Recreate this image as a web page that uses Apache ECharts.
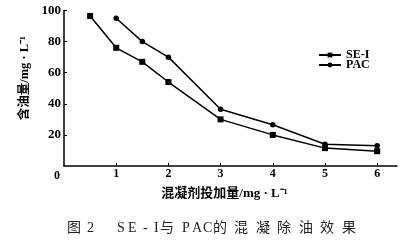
<!DOCTYPE html>
<html><head><meta charset="utf-8">
<script src="https://cdn.jsdelivr.net/npm/echarts@6/dist/echarts.min.js"></script>
<style>html,body{margin:0;padding:0;background:#fff}#c{width:413px;height:242px}</style>
</head><body><div id="c"></div>
<script>
const seriesNames = ['SE-I', 'PAC'];
const seI = [[0.5, 96.5], [1, 76], [1.5, 67], [2, 54], [3, 30], [4, 20], [5, 11.5], [6, 9.5]];
const pac = [[1, 95], [1.5, 80], [2, 70], [3, 36.5], [4, 26.5], [5, 14], [6, 13]];
const xTicks = [0, 1, 2, 3, 4, 5, 6];
const yTicks = [20, 40, 60, 80, 100];
const xName = '混凝剂投加量/mg · L⁻¹';
const yName = '含油量/mg · L⁻¹';
const captionParts = [['图', 67], ['2', 87], ['S', 117], ['E', 128], ['-', 143], ['I', 154], ['与', 160], ['P', 182], ['A', 192], ['C', 203], ['的', 213], ['混', 234], ['凝', 256], ['除', 277], ['油', 299], ['效', 320], ['果', 342]];

const serif = '"Liberation Serif","Noto Sans CJK SC",serif';
const chart = echarts.init(document.getElementById('c'), null, {renderer: 'canvas'});
chart.setOption({
  animation: false,
  backgroundColor: '#fff',
  grid: {left: 64, right: 16, top: 10.5, bottom: 76},
  legend: {
    orient: 'vertical', left: 313, top: 44, itemGap: -2,
    itemWidth: 22, itemHeight: 6,
    textStyle: {fontFamily: serif, fontWeight: 'bold', fontSize: 12, color: '#000', lineHeight: 11},
    data: seriesNames
  },
  xAxis: {
    type: 'value', min: 0, max: 6.38,
    name: xName, nameLocation: 'middle', nameGap: 13,
    nameTextStyle: {fontFamily: serif, fontWeight: 'bold', fontSize: 13, color: '#000', padding: [0, 12, 0, 0]},
    axisLine: {lineStyle: {color: '#000', width: 1.5}},
    axisTick: {inside: true, length: 3, customValues: xTicks.slice(1), lineStyle: {color: '#000'}},
    axisLabel: {customValues: xTicks, margin: 2, color: '#000', fontFamily: serif, fontWeight: 'bold', fontSize: 12,
      formatter: v => v === 0 ? '{z|0}' : String(v),
      rich: {z: {padding: [2, 14, 0, 0], fontFamily: serif, fontWeight: 'bold', fontSize: 12, color: '#000'}}},
    splitLine: {show: false}
  },
  yAxis: {
    type: 'value', min: 0, max: 100, interval: 20,
    name: yName, nameLocation: 'middle', nameGap: 30, nameRotate: 90,
    nameTextStyle: {fontFamily: serif, fontWeight: 'bold', fontSize: 12.5, color: '#000', padding: [0, 0, 0, 20]},
    axisLine: {show: true, onZero: false, lineStyle: {color: '#000', width: 1.5}},
    axisTick: {show: true, inside: true, length: 3, customValues: yTicks, lineStyle: {color: '#000'}},
    axisLabel: {customValues: yTicks, margin: 3, color: '#000', fontFamily: serif, fontWeight: 'bold', fontSize: 13},
    splitLine: {show: false}
  },
  series: [
    {name: seriesNames[0], type: 'line', data: seI, symbol: 'rect', symbolSize: 6,
      lineStyle: {color: '#000', width: 1.5}, itemStyle: {color: '#000'}},
    {name: seriesNames[1], type: 'line', data: pac, symbol: 'circle', symbolSize: 5.5,
      lineStyle: {color: '#000', width: 1.5}, itemStyle: {color: '#000'}}
  ],
  graphic: captionParts.map(p => ({
    type: 'text', left: p[1], top: 221,
    style: {text: p[0], fontFamily: serif, fontSize: 14, fill: '#222'}
  }))
});
</script></body></html>
